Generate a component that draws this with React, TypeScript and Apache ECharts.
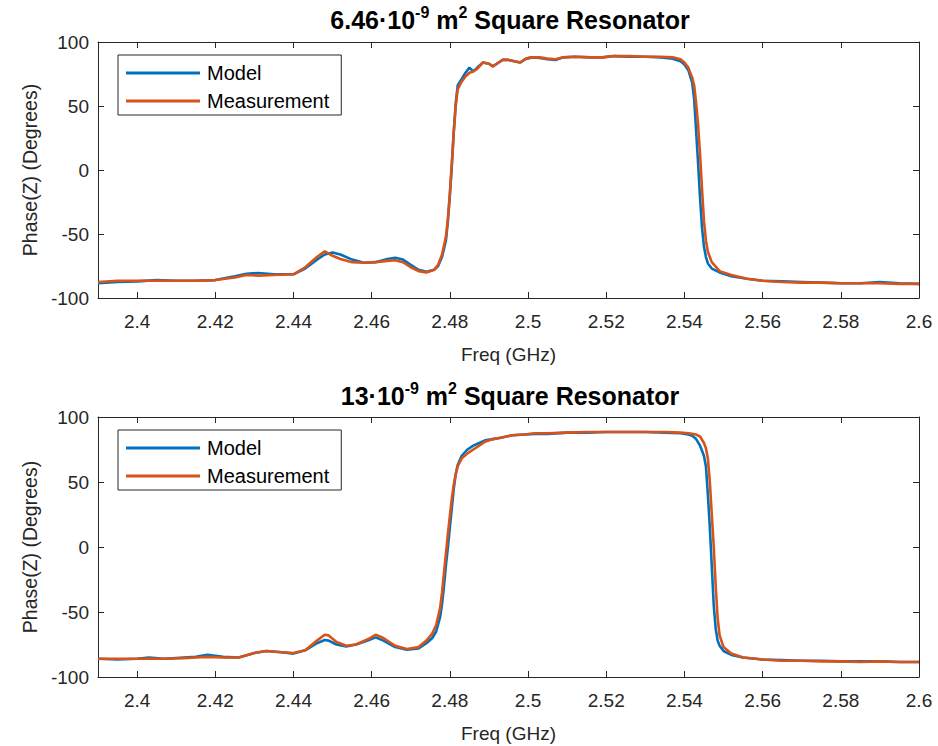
import React, { useEffect, useRef } from "react";
import * as echarts from "echarts";

// ---------- data ----------
const xTicks = [2.4, 2.42, 2.44, 2.46, 2.48, 2.5, 2.52, 2.54, 2.56, 2.58, 2.6];
const yTicks = [-100, -50, 0, 50, 100];
const seriesNames = ["Model", "Measurement"];

// top panel: 6.46e-9 m^2 resonator
const freqTop = [
  2.390, 2.395, 2.400, 2.405, 2.410, 2.415, 2.420, 2.425, 2.428, 2.431, 2.435, 2.440,
  2.443, 2.446, 2.448, 2.450, 2.452, 2.455, 2.458, 2.461, 2.464, 2.466, 2.468, 2.470,
  2.472, 2.474, 2.476, 2.477, 2.478, 2.479, 2.4795, 2.480, 2.4805, 2.481, 2.4815, 2.482,
  2.483, 2.484, 2.485, 2.486, 2.487, 2.4885, 2.490, 2.491, 2.4925, 2.4935, 2.495, 2.4965,
  2.498, 2.4995, 2.501, 2.503, 2.505, 2.507, 2.509, 2.512, 2.516, 2.519, 2.522, 2.526,
  2.530, 2.534, 2.537, 2.539, 2.540, 2.541, 2.542, 2.5425, 2.543, 2.5435, 2.544, 2.5445,
  2.545, 2.5455, 2.546, 2.547, 2.549, 2.552, 2.556, 2.560, 2.565, 2.570, 2.575, 2.580,
  2.585, 2.590, 2.595, 2.600,
];
const modelTop = [
  -88.5, -87.5, -87, -86, -86.5, -86.5, -86, -83, -81, -80.5, -81.5, -81.5,
  -77, -70, -66, -64.5, -66, -70, -72.5, -72, -69.5, -68.5, -70, -74,
  -78, -79.5, -78, -75, -68, -55, -40, -20, 3, 30, 52, 66,
  71, 76, 80, 77, 80, 84, 83, 81, 84, 86, 86, 85,
  84, 87, 88, 87.5, 86.5, 86, 88, 88.5, 88, 88, 89, 88.5,
  88.5, 88, 87, 85, 82.5, 78, 68, 55, 30, 5, -22, -45,
  -60, -68, -73, -77, -80, -83, -85, -86.5, -87, -87.5, -88, -88.5,
  -88.5, -87.5, -88.5, -89,
];
const measTop = [
  -87.5, -86.5, -86.5, -86.5, -86.5, -86.5, -86, -84, -82, -82.5, -82, -81.5,
  -76, -68, -63.5, -67, -69.5, -72, -72.5, -72, -71, -70.5, -72, -76,
  -79, -80, -78, -74, -66, -52, -38, -18, 5, 30, 50, 63,
  69, 73, 76, 77, 79, 84, 83, 81, 84, 86, 86, 85,
  84, 87, 88, 88, 87, 86.5, 88, 88.5, 88, 88, 89, 89,
  88.5, 88.5, 88, 86.5, 84, 80, 72, 66, 52, 35, 12, -15,
  -40, -55, -64, -72, -79, -82, -85, -86.5, -87.5, -88, -88, -88.5,
  -88.5, -88.5, -89, -89,
];

// bottom panel: 13e-9 m^2 resonator
const freqBot = [
  2.390, 2.395, 2.400, 2.403, 2.407, 2.412, 2.415, 2.418, 2.422, 2.426, 2.430, 2.433,
  2.437, 2.440, 2.443, 2.446, 2.448, 2.449, 2.451, 2.4535, 2.456, 2.459, 2.461, 2.463,
  2.466, 2.469, 2.472, 2.474, 2.4755, 2.4765, 2.4775, 2.478, 2.4785, 2.479, 2.4795, 2.480,
  2.4805, 2.481, 2.4815, 2.482, 2.483, 2.4845, 2.486, 2.4875, 2.489, 2.491, 2.493, 2.496,
  2.499, 2.502, 2.505, 2.510, 2.515, 2.520, 2.525, 2.530, 2.535, 2.539, 2.541, 2.542,
  2.543, 2.544, 2.545, 2.5455, 2.546, 2.5465, 2.547, 2.5475, 2.548, 2.5485, 2.549, 2.550,
  2.552, 2.555, 2.560, 2.565, 2.570, 2.575, 2.580, 2.585, 2.590, 2.595, 2.600,
];
const modelBot = [
  -86, -86.5, -86, -85, -86, -85, -84.5, -83, -84.5, -85, -81.5, -80,
  -81, -82, -79.5, -74, -71.5, -72, -75, -76.5, -75, -72, -69.5, -72,
  -77, -79, -78, -74, -70, -65, -54, -44, -30, -14, 0, 15,
  30, 45, 56, 63, 70, 75, 78, 80, 82, 83, 84, 86,
  86.5, 87, 87, 88, 88, 88.5, 88.5, 88.5, 88, 87.5, 86.5, 85.5,
  83, 78, 70, 62, 40, 15, -15, -45, -63, -72, -76, -80,
  -83, -85, -86.5, -87, -87.5, -87.5, -88, -88, -88, -88.5, -88.5,
];
const measBot = [
  -86, -86, -86, -86, -86, -85.5, -85, -84.5, -85, -85, -81.5, -80,
  -81, -81.5, -79.5, -72, -67.5, -68, -73, -76, -75, -71, -67.5, -70,
  -76, -78.5, -77, -72, -66.5, -60, -47, -35, -20, -5, 10, 24,
  37, 48, 56, 62, 68, 72, 75, 78, 81, 83, 84, 86,
  86.5, 87.5, 87.5, 88, 88.5, 88.5, 88.5, 88.5, 88.5, 88, 87.5, 87,
  86.5, 85, 80, 76, 68, 50, 25, 0, -30, -55, -68, -77,
  -82, -85, -86.5, -87.5, -87.5, -88, -88, -88.5, -88, -88.5, -88.5,
];

// ---------- styling ----------
const FONT = "'Liberation Sans', Arial, Helvetica, sans-serif";
const AX = "#262626";
const BLUE = "#0072BD";
const ORANGE = "#D95319";

const grids = [
  { left: 98, top: 42, width: 821, height: 256 },
  { left: 98, top: 417, width: 821, height: 260 },
];

function pairs(xs: number[], ys: number[]) {
  return xs.map((x, i) => [x, ys[i]]);
}

export default function App() {
  const ref = useRef<HTMLDivElement>(null);

  useEffect(() => {
    if (!ref.current) return;
    const chart = echarts.init(ref.current, undefined, { renderer: "svg" });

    const xAxes: any[] = [];
    const yAxes: any[] = [];
    grids.forEach((_, gi) => {
      const common = {
        type: "value",
        gridIndex: gi,
        min: 2.39,
        max: 2.6,
        splitLine: { show: false },
        axisLine: { show: true, onZero: false, lineStyle: { color: AX, width: 1 } },
        axisTick: { show: true, inside: true, length: 6, customValues: xTicks, lineStyle: { color: AX } },
      };
      xAxes.push({
        ...common,
        position: "bottom",
        name: "Freq (GHz)",
        nameLocation: "middle",
        nameGap: 47,
        nameTextStyle: { fontFamily: FONT, fontSize: 19, color: AX },
        axisLabel: {
          show: true,
          customValues: xTicks,
          margin: 14,
          fontFamily: FONT,
          fontSize: 19,
          color: AX,
          formatter: (v: number) => String(parseFloat(v.toFixed(2))),
        },
      });
      xAxes.push({ ...common, position: "top", axisLabel: { show: false } });

      const ycommon = {
        type: "value",
        gridIndex: gi,
        min: yTicks[0],
        max: yTicks[yTicks.length - 1],
        interval: 50,
        splitLine: { show: false },
        axisLine: { show: true, onZero: false, lineStyle: { color: AX, width: 1 } },
        axisTick: { show: true, inside: true, length: 6, lineStyle: { color: AX } },
      };
      yAxes.push({
        ...ycommon,
        position: "left",
        name: "Phase(Z) (Degrees)",
        nameLocation: "middle",
        nameGap: 57,
        nameTextStyle: { fontFamily: FONT, fontSize: 19.5, color: AX },
        axisLabel: { show: true, margin: 9, fontFamily: FONT, fontSize: 19, color: AX },
      });
      yAxes.push({ ...ycommon, position: "right", axisLabel: { show: false } });
    });

    const lineSeries = (name: string, color: string, data: number[][], gi: number) => ({
      name,
      type: "line",
      xAxisIndex: gi * 2,
      yAxisIndex: gi * 2,
      data,
      showSymbol: false,
      symbol: "none",
      lineStyle: { color, width: 2.6 },
      itemStyle: { color },
      z: name === "Measurement" ? 3 : 2,
    });

    const titleRich = {
      a: { fontFamily: FONT, fontSize: 25, fontWeight: "bold", color: "#000", lineHeight: 28, verticalAlign: "bottom" },
      s: { fontFamily: FONT, fontSize: 16, fontWeight: "bold", color: "#000", lineHeight: 14, verticalAlign: "top" },
    };

    const legendFor = (top: number) => ({
      orient: "vertical",
      left: 118,
      top,
      data: seriesNames.map((n) => ({ name: n, icon: "rect" })),
      itemWidth: 74,
      itemHeight: 3,
      itemGap: 8,
      padding: [8, 12, 4, 8],
      borderColor: AX,
      borderWidth: 1,
      borderRadius: 0,
      backgroundColor: "#fff",
      selectedMode: false,
      textStyle: { fontFamily: FONT, fontSize: 20, color: "#000", lineHeight: 20, padding: [0, 0, 0, 2] },
    });

    chart.setOption({
      animation: false,
      backgroundColor: "#fff",
      title: [
        {
          text: "{a|6.46·10}{s|-9}{a| m}{s|2}{a| Square Resonator}",
          left: 510,
          textAlign: "center",
          top: 4,
          padding: 0,
          textStyle: { rich: titleRich },
        },
        {
          text: "{a|13·10}{s|-9}{a| m}{s|2}{a| Square Resonator}",
          left: 510,
          textAlign: "center",
          top: 380,
          padding: 0,
          textStyle: { rich: titleRich },
        },
      ],
      legend: [legendFor(55), legendFor(430)],
      grid: grids,
      xAxis: xAxes,
      yAxis: yAxes,
      series: [
        lineSeries("Model", BLUE, pairs(freqTop, modelTop), 0),
        lineSeries("Measurement", ORANGE, pairs(freqTop, measTop), 0),
        lineSeries("Model", BLUE, pairs(freqBot, modelBot), 1),
        lineSeries("Measurement", ORANGE, pairs(freqBot, measBot), 1),
      ],
    });

    return () => chart.dispose();
  }, []);

  return (
    <div
      ref={ref}
      style={{ position: "fixed", left: 0, top: 0, width: 938, height: 746, background: "#fff" }}
    />
  );
}
